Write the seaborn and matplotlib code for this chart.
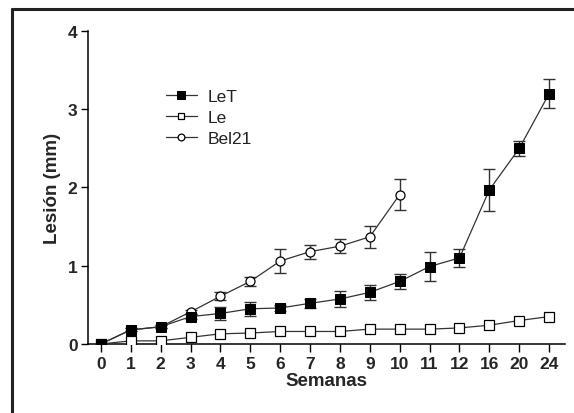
import numpy as np
import pandas as pd
import matplotlib
matplotlib.use("Agg")
import matplotlib.pyplot as plt
import seaborn as sns
from matplotlib.lines import Line2D

# datos
semanas = ["0", "1", "2", "3", "4", "5", "6", "7", "8", "9", "10", "11", "12", "16", "20", "24"]
let_media = [0, 0.18, 0.22, 0.35, 0.39, 0.45, 0.46, 0.52, 0.575, 0.66, 0.80, 0.99, 1.10, 1.97, 2.50, 3.20]
let_err = [0, 0.02, 0.02, 0.03, 0.085, 0.09, 0.04, 0.06, 0.10, 0.10, 0.10, 0.19, 0.11, 0.27, 0.10, 0.19]
le_media = [0, 0.04, 0.04, 0.085, 0.13, 0.14, 0.16, 0.16, 0.16, 0.19, 0.19, 0.19, 0.205, 0.24, 0.30, 0.35]
bel_media = [0, 0.18, 0.22, 0.41, 0.61, 0.80, 1.06, 1.18, 1.25, 1.37, 1.91]
bel_err = [0, 0.02, 0.02, 0.03, 0.05, 0.06, 0.15, 0.09, 0.09, 0.14, 0.20]

sns.set_style("ticks")
plt.rcParams['font.family'] = ['Liberation Sans', 'DejaVu Sans']

pos = np.arange(len(semanas))
df_let = pd.DataFrame({"x": pos, "y": let_media})
df_le = pd.DataFrame({"x": pos, "y": le_media})
df_bel = pd.DataFrame({"x": pos[:len(bel_media)], "y": bel_media})

fig = plt.figure(figsize=(5.74, 4.14), dpi=100)
ax = fig.add_axes([0.1533, 0.1667, 0.831, 0.756])

lc = "#333333"
ax.errorbar(df_bel["x"], df_bel["y"], yerr=bel_err, fmt="none", ecolor=lc,
            elinewidth=1, capsize=4, capthick=1, zorder=2)
sns.lineplot(data=df_bel, x="x", y="y", ax=ax, color=lc, lw=0.9, marker="o",
             markersize=6.5, markerfacecolor="white", markeredgecolor="black",
             markeredgewidth=0.9, label="Bel21", zorder=3)
sns.lineplot(data=df_le, x="x", y="y", ax=ax, color=lc, lw=0.9, marker="s",
             markersize=6.5, markerfacecolor="white", markeredgecolor="black",
             markeredgewidth=0.9, label="Le", zorder=4)
ax.errorbar(df_let["x"], df_let["y"], yerr=let_err, fmt="none", ecolor=lc,
            elinewidth=1, capsize=4, capthick=1, zorder=5)
sns.lineplot(data=df_let, x="x", y="y", ax=ax, color=lc, lw=0.9, marker="s",
             markersize=7, markerfacecolor="black", markeredgecolor="black",
             label="LeT", zorder=6)

ax.set_xlim(-0.43, 15.53)
ax.set_ylim(0, 4)
ax.set_xticks(pos)
ax.set_xticklabels(semanas)
ax.set_yticks([0, 1, 2, 3, 4])
ax.tick_params(axis="both", labelsize=12.5, width=1, length=5, color="black", pad=2.5)
ax.tick_params(axis="x", length=6)
for lab in ax.get_xticklabels() + ax.get_yticklabels():
    lab.set_fontweight("bold")
ax.set_xlabel("Semanas", fontsize=13.5, fontweight="bold", labelpad=1)
ax.set_ylabel("Lesión (mm)", fontsize=13.5, fontweight="bold", labelpad=5)
sns.despine(ax=ax)
for s in ["left", "bottom"]:
    ax.spines[s].set_linewidth(1.1)
    ax.spines[s].set_color("black")
ax.spines["bottom"].set_zorder(1)

handles, labels = ax.get_legend_handles_labels()
orden = [labels.index(n) for n in ["LeT", "Le", "Bel21"]]
leg = ax.legend([handles[i] for i in orden], [labels[i] for i in orden],
                loc="upper left", bbox_to_anchor=(0.13, 0.865), frameon=False,
                fontsize=12.5, handlelength=1.8, labelspacing=0.35, handletextpad=0.6,
                markerscale=0.75)
for t in leg.get_texts():
    t.set_color("#222222")

# marco de la figura
fig.add_artist(Line2D([12 / 574, 12 / 574], [0, 1 - 10 / 414], color="#222222", lw=2.2))
fig.add_artist(Line2D([12 / 574, 1], [1 - 10 / 414, 1 - 10 / 414], color="#222222", lw=2.2))

fig.savefig("out.png", dpi=100)
